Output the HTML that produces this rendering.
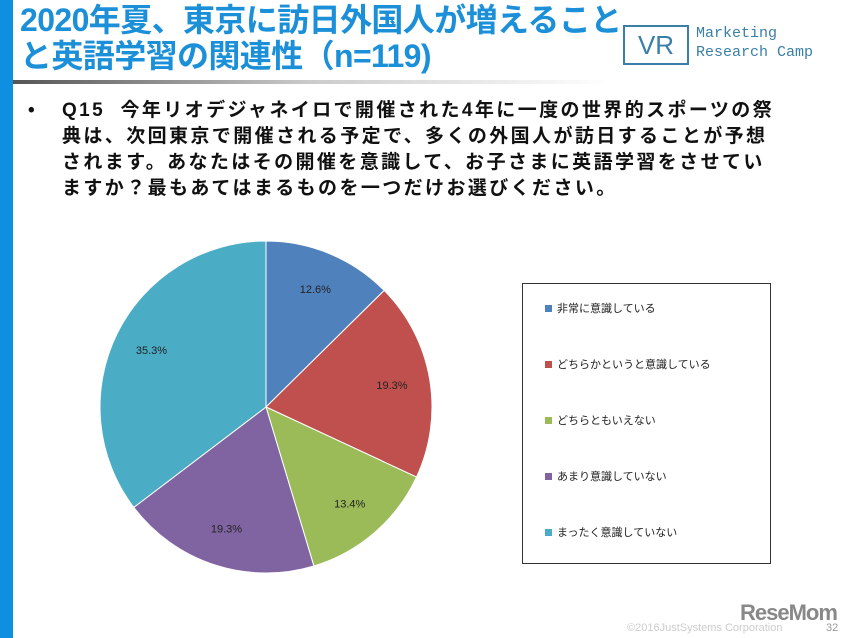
<!DOCTYPE html>
<html><head><meta charset="utf-8"><style>
body{margin:0;width:851px;height:638px;background:#fff;position:relative;overflow:hidden;font-family:"Liberation Sans","Noto Sans CJK JP",sans-serif}
.abs{position:absolute}
</style></head><body>
<div class="abs" style="left:0;top:0;width:13px;height:638px;background:#0e8fe0"></div>
<div class="abs" style="left:20px;top:2px;font-size:32px;font-weight:bold;color:#1b8fd8;line-height:36px;letter-spacing:-0.6px;white-space:nowrap">2020年夏、東京に訪日外国人が増えること<br>と英語学習の関連性（n=119)</div>
<div class="abs" style="left:13px;top:80px;width:600px;height:4px;background:linear-gradient(to right,#555,#ccc,#fff)"></div>
<div class="abs" style="left:623px;top:25px;width:62px;height:36px;border:2px solid #3a7fa8;color:#3a7fa8;font-size:26px;line-height:36px;text-align:center">VR</div>
<div class="abs" style="left:696px;top:24px;font-family:'Liberation Mono',monospace;font-size:15px;color:#3a7fa8;line-height:19px">Marketing<br>Research Camp</div>
<div class="abs" style="left:28px;top:98px;width:800px;font-size:19px;font-weight:bold;line-height:26px;color:#111;white-space:nowrap;letter-spacing:2.4px">
<span style="position:absolute;left:0">•</span>
<div style="margin-left:34px">Q15&nbsp; 今年リオデジャネイロで開催された4年に一度の世界的スポーツの祭<br>典は、次回東京で開催される予定で、多くの外国人が訪日することが予想<br>されます。あなたはその開催を意識して、お子さまに英語学習をさせてい<br>ますか？最もあてはまるものを一つだけお選びください。</div></div>
<svg class="abs" style="left:0;top:0" width="851" height="638" id="chart"></svg>
<div class="abs" id="legend" style="left:522px;top:283px;width:247px;height:279px;border:1px solid #333;font-size:11px;color:#222"></div>
<div class="abs" style="left:627px;top:622px;font-size:11px;color:#ccc">©2016JustSystems Corporation</div>
<div class="abs" style="left:740px;top:600px;font-size:22px;font-weight:bold;color:#888;letter-spacing:-1px">ReseMom</div>
<div class="abs" style="left:826px;top:622px;font-size:11px;color:#999">32</div>
<script>
const categories=["非常に意識している","どちらかというと意識している","どちらともいえない","あまり意識していない","まったく意識していない"];
const values=[12.6,19.3,13.4,19.3,35.3];
const colors=["#4F81BD","#C0504D","#9BBB59","#8064A2","#4BACC6"];
const cx=266,cy=407,r=166,NS="http://www.w3.org/2000/svg";
const svg=document.getElementById('chart');
const total=values.reduce((a,b)=>a+b,0);
let a0=0;
values.forEach((v,i)=>{
 const a1=a0+v/total*2*Math.PI;
 const p=a=>[cx+r*Math.sin(a),cy-r*Math.cos(a)];
 const [x0,y0]=p(a0),[x1,y1]=p(a1);
 const path=document.createElementNS(NS,'path');
 path.setAttribute('d',`M${cx},${cy}L${x0},${y0}A${r},${r} 0 ${a1-a0>Math.PI?1:0} 1 ${x1},${y1}Z`);
 path.setAttribute('fill',colors[i]);path.setAttribute('stroke','#fff');path.setAttribute('stroke-width','1');
 
 
 svg.appendChild(path);
 const m=(a0+a1)/2,lr=r*0.77;
 const t=document.createElementNS(NS,'text');
 t.setAttribute('x',cx+lr*Math.sin(m));t.setAttribute('y',cy-lr*Math.cos(m)+4);
 t.setAttribute('text-anchor','middle');t.setAttribute('font-size','11');t.setAttribute('fill','#222');
 t.setAttribute('font-family','Liberation Sans, sans-serif');
 t.textContent=v.toFixed(1)+'%';
 
 
 svg.appendChild(t);
 a0=a1;
});
const lg=document.getElementById('legend');
categories.forEach((c,i)=>{
 const d=document.createElement('div');
 d.style.cssText=`position:absolute;left:22px;top:${16+i*56}px;white-space:nowrap`;
 d.innerHTML=`<span style="display:inline-block;width:7px;height:7px;background:${colors[i]};margin-right:5px"></span>${c}`;
 
 
 lg.appendChild(d);
});
</script>
</body></html>
